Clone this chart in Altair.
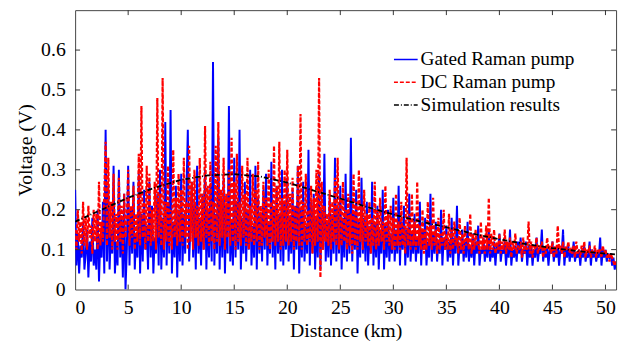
import altair as alt
import pandas as pd

# Sampling grid along the fibre (km), 0.125 km steps (0 .. 51 km)
distance_km = [i * 0.125 for i in range(409)]

gated = [
    # 0-5 km
    0.25, 0.06, 0.14, 0.04, 0.11, 0.08, 0.17, 0.05,
    0.09, 0.15, 0.03, 0.12, 0.07, 0.18, 0.06, 0.10,
    0.05, 0.20, 0.02, 0.13, 0.08, 0.22, 0.04, 0.40,
    0.07, 0.26, 0.05, 0.15, 0.09, 0.31, 0.04, 0.12,
    0.06, 0.30, 0.08, 0.18, 0.03, 0.24, 0.00, 0.10,
    # 5-10 km
    0.31, 0.06, 0.20, 0.09, 0.27, 0.05, 0.14, 0.08,
    0.29, 0.04, 0.19, 0.07, 0.25, 0.10, 0.16, 0.05,
    0.27, 0.08, 0.21, 0.04, 0.13, 0.09, 0.24, 0.06,
    0.30, 0.05, 0.18, 0.08, 0.42, 0.06, 0.22, 0.09,
    0.45, 0.04, 0.17, 0.08, 0.26, 0.03, 0.20, 0.07,
    # 10-15 km
    0.29, 0.06, 0.19, 0.09, 0.25, 0.40, 0.07, 0.16,
    0.27, 0.08, 0.22, 0.05, 0.31, 0.09, 0.18, 0.06,
    0.24, 0.10, 0.30, 0.05, 0.20, 0.08, 0.26, 0.07,
    0.57, 0.06, 0.19, 0.09, 0.38, 0.05, 0.23, 0.08,
    0.28, 0.04, 0.21, 0.09, 0.46, 0.07, 0.17, 0.06,
    # 15-20 km
    0.33, 0.08, 0.22, 0.10, 0.40, 0.05, 0.18, 0.09,
    0.27, 0.07, 0.20, 0.10, 0.30, 0.06, 0.16, 0.08,
    0.31, 0.05, 0.23, 0.09, 0.19, 0.07, 0.25, 0.10,
    0.29, 0.06, 0.17, 0.09, 0.32, 0.08, 0.21, 0.05,
    0.26, 0.09, 0.19, 0.07, 0.30, 0.06, 0.22, 0.10,
    # 20-25 km
    0.28, 0.07, 0.18, 0.09, 0.25, 0.05, 0.21, 0.10,
    0.31, 0.04, 0.20, 0.08, 0.27, 0.07, 0.16, 0.09,
    0.35, 0.06, 0.22, 0.09, 0.24, 0.05, 0.18, 0.08,
    0.29, 0.05, 0.20, 0.10, 0.34, 0.07, 0.17, 0.08,
    0.23, 0.06, 0.19, 0.09, 0.33, 0.07, 0.21, 0.09,
    # 25-30 km
    0.26, 0.05, 0.18, 0.08, 0.29, 0.07, 0.20, 0.09,
    0.38, 0.07, 0.19, 0.10, 0.25, 0.04, 0.17, 0.08,
    0.28, 0.09, 0.18, 0.07, 0.22, 0.06, 0.16, 0.09,
    0.27, 0.06, 0.17, 0.08, 0.21, 0.05, 0.15, 0.09,
    0.25, 0.05, 0.16, 0.08, 0.20, 0.07, 0.14, 0.09,
    # 30-35 km
    0.23, 0.07, 0.15, 0.09, 0.26, 0.06, 0.17, 0.10,
    0.21, 0.06, 0.15, 0.08, 0.24, 0.07, 0.14, 0.09,
    0.19, 0.07, 0.13, 0.09, 0.22, 0.06, 0.15, 0.10,
    0.18, 0.06, 0.12, 0.08, 0.24, 0.07, 0.14, 0.09,
    0.17, 0.07, 0.12, 0.09, 0.20, 0.06, 0.13, 0.10,
    # 35-40 km
    0.16, 0.07, 0.12, 0.08, 0.18, 0.06, 0.13, 0.09,
    0.21, 0.06, 0.11, 0.09, 0.15, 0.07, 0.12, 0.08,
    0.17, 0.07, 0.11, 0.08, 0.14, 0.06, 0.12, 0.09,
    0.16, 0.06, 0.10, 0.09, 0.13, 0.07, 0.11, 0.08,
    0.15, 0.07, 0.10, 0.08, 0.12, 0.06, 0.11, 0.09,
    # 40-45 km
    0.14, 0.07, 0.10, 0.09, 0.12, 0.06, 0.11, 0.08,
    0.15, 0.06, 0.10, 0.08, 0.11, 0.07, 0.12, 0.09,
    0.13, 0.07, 0.10, 0.09, 0.12, 0.06, 0.11, 0.08,
    0.11, 0.06, 0.10, 0.08, 0.13, 0.07, 0.10, 0.09,
    0.15, 0.07, 0.10, 0.08, 0.11, 0.06, 0.10, 0.09,
    # 45-50 km
    0.12, 0.07, 0.10, 0.08, 0.11, 0.06, 0.10, 0.09,
    0.15, 0.06, 0.10, 0.08, 0.11, 0.07, 0.10, 0.08,
    0.12, 0.07, 0.09, 0.08, 0.10, 0.06, 0.10, 0.08,
    0.11, 0.07, 0.09, 0.08, 0.12, 0.06, 0.10, 0.08,
    0.10, 0.07, 0.09, 0.08, 0.13, 0.06, 0.10, 0.08,
    # 50-51 km
    0.10, 0.07, 0.09, 0.08, 0.09, 0.06, 0.08, 0.05, 0.07,
]

dc = [
    # 0-5 km
    0.15, 0.10, 0.20, 0.12, 0.17, 0.09, 0.22, 0.11,
    0.18, 0.10, 0.21, 0.13, 0.16, 0.09, 0.20, 0.12,
    0.19, 0.10, 0.27, 0.11, 0.17, 0.12, 0.24, 0.37,
    0.11, 0.33, 0.13, 0.22, 0.10, 0.29, 0.12, 0.19,
    0.10, 0.28, 0.12, 0.21, 0.09, 0.24, 0.13, 0.18,
    # 5-10 km
    0.30, 0.11, 0.21, 0.13, 0.26, 0.10, 0.19, 0.12,
    0.34, 0.11, 0.46, 0.13, 0.22, 0.10, 0.31, 0.12,
    0.29, 0.11, 0.20, 0.12, 0.27, 0.10, 0.48, 0.13,
    0.24, 0.11, 0.53, 0.10, 0.22, 0.12, 0.31, 0.11,
    0.20, 0.10, 0.35, 0.13, 0.23, 0.11, 0.29, 0.12,
    # 10-15 km
    0.25, 0.11, 0.33, 0.13, 0.22, 0.10, 0.36, 0.12,
    0.27, 0.10, 0.30, 0.13, 0.21, 0.11, 0.33, 0.12,
    0.24, 0.10, 0.41, 0.13, 0.26, 0.11, 0.32, 0.12,
    0.22, 0.10, 0.36, 0.12, 0.42, 0.11, 0.25, 0.13,
    0.33, 0.10, 0.24, 0.13, 0.30, 0.11, 0.38, 0.12,
    # 15-20 km
    0.27, 0.10, 0.34, 0.12, 0.22, 0.11, 0.31, 0.13,
    0.24, 0.11, 0.33, 0.10, 0.21, 0.12, 0.29, 0.11,
    0.25, 0.12, 0.32, 0.10, 0.21, 0.11, 0.27, 0.13,
    0.23, 0.11, 0.30, 0.10, 0.22, 0.12, 0.36, 0.11,
    0.26, 0.12, 0.37, 0.10, 0.23, 0.11, 0.30, 0.12,
    # 20-25 km
    0.35, 0.11, 0.24, 0.12, 0.28, 0.10, 0.21, 0.12,
    0.31, 0.11, 0.44, 0.10, 0.22, 0.12, 0.29, 0.11,
    0.20, 0.12, 0.26, 0.09, 0.23, 0.11, 0.30, 0.12,
    0.53, 0.03, 0.27, 0.10, 0.21, 0.12, 0.19, 0.11,
    0.25, 0.10, 0.22, 0.12, 0.28, 0.11, 0.33, 0.10,
    # 25-30 km
    0.23, 0.11, 0.27, 0.12, 0.20, 0.10, 0.24, 0.11,
    0.19, 0.09, 0.29, 0.11, 0.22, 0.10, 0.30, 0.12,
    0.21, 0.10, 0.25, 0.12, 0.19, 0.11, 0.22, 0.09,
    0.18, 0.11, 0.27, 0.10, 0.20, 0.11, 0.23, 0.12,
    0.17, 0.10, 0.26, 0.12, 0.19, 0.11, 0.21, 0.10,
    # 30-35 km
    0.18, 0.10, 0.24, 0.11, 0.17, 0.10, 0.22, 0.11,
    0.16, 0.09, 0.33, 0.11, 0.19, 0.10, 0.24, 0.11,
    0.17, 0.10, 0.27, 0.11, 0.16, 0.10, 0.20, 0.09,
    0.15, 0.10, 0.22, 0.11, 0.16, 0.10, 0.23, 0.11,
    0.15, 0.09, 0.18, 0.10, 0.14, 0.11, 0.20, 0.10,
    # 35-40 km
    0.14, 0.10, 0.19, 0.09, 0.15, 0.10, 0.17, 0.11,
    0.13, 0.09, 0.18, 0.10, 0.14, 0.09, 0.16, 0.11,
    0.13, 0.10, 0.19, 0.09, 0.14, 0.10, 0.15, 0.11,
    0.12, 0.09, 0.17, 0.10, 0.13, 0.09, 0.16, 0.10,
    0.23, 0.09, 0.14, 0.10, 0.15, 0.09, 0.12, 0.10,
    # 40-45 km
    0.14, 0.09, 0.12, 0.10, 0.15, 0.09, 0.12, 0.10,
    0.13, 0.08, 0.12, 0.10, 0.14, 0.09, 0.11, 0.10,
    0.12, 0.08, 0.13, 0.09, 0.11, 0.10, 0.17, 0.09,
    0.12, 0.08, 0.11, 0.10, 0.13, 0.09, 0.11, 0.10,
    0.12, 0.08, 0.11, 0.09, 0.13, 0.10, 0.11, 0.09,
    # 45-50 km
    0.12, 0.08, 0.11, 0.09, 0.16, 0.10, 0.11, 0.09,
    0.12, 0.08, 0.11, 0.10, 0.12, 0.09, 0.10, 0.09,
    0.11, 0.08, 0.12, 0.09, 0.10, 0.08, 0.11, 0.09,
    0.12, 0.08, 0.10, 0.09, 0.11, 0.08, 0.10, 0.09,
    0.11, 0.08, 0.10, 0.09, 0.10, 0.08, 0.11, 0.09,
    # 50-51 km
    0.10, 0.08, 0.09, 0.07, 0.09, 0.08, 0.07, 0.06, 0.07,
]

sim_km = [0, 2.5, 5, 7.5, 10, 12.5, 15, 17.5, 20, 22.5, 25, 27.5, 30, 32.5, 35, 37.5, 40, 42.5, 45, 47.5, 50, 51]
sim_v = [0.170, 0.200, 0.230, 0.255, 0.275, 0.286, 0.289, 0.283, 0.268, 0.248, 0.228, 0.207, 0.188, 0.171, 0.156, 0.140,
         0.126, 0.114, 0.104, 0.096, 0.090, 0.088]

series_names = ["Gated Raman pump", "DC Raman pump", "Simulation results"]
series_colors = ["#0000ff", "#ff0000", "#000000"]
series_dashes = [[1, 0], [4, 2], [5, 2, 1, 2]]

x_ticks = [5, 10, 15, 20, 25, 30, 35, 40, 45, 50]
y_ticks = [0.1, 0.2, 0.3, 0.4, 0.5, 0.6]

W, H = 548, 283
FONT = "Liberation Serif"

df_g = pd.DataFrame({"Distance": distance_km, "Voltage": gated, "series": series_names[0]})
df_d = pd.DataFrame({"Distance": distance_km, "Voltage": dc, "series": series_names[1]})
df_s = pd.DataFrame({"Distance": sim_km, "Voltage": sim_v, "series": series_names[2]})

xscale = alt.Scale(domain=[0, 51], nice=False, zero=False)
yscale = alt.Scale(domain=[0, 0.7], nice=False)

color = alt.Color(
    "series:N",
    scale=alt.Scale(domain=series_names, range=series_colors),
    legend=alt.Legend(
        title=None, orient="none", legendX=322, legendY=37,
        symbolType="stroke", symbolSize=576, symbolStrokeWidth=1.5,
        labelFont=FONT, labelFontSize=19.5, labelColor="black",
        labelOffset=2, rowPadding=0, padding=0,
    ),
)
dash = alt.StrokeDash(
    "series:N",
    scale=alt.Scale(domain=series_names, range=series_dashes),
    legend=None,
)

x_axis = alt.Axis(values=[0] + x_ticks, tickSize=0, domain=False, grid=False,
                  labelPadding=8, titlePadding=4, format="d")
y_axis = alt.Axis(values=[0] + y_ticks, tickSize=0, domain=False, grid=False,
                  labelPadding=10, titlePadding=5,
                  labelExpr="datum.value == 0 ? '0' : format(datum.value, '.1f')")

x_enc = alt.X("Distance:Q", scale=xscale, title="Distance (km)", axis=x_axis)
y_enc = alt.Y("Voltage:Q", scale=yscale, title="Voltage (V)", axis=y_axis)


def line_layer(df, width):
    return alt.Chart(df).mark_line(strokeWidth=width, clip=True).encode(
        x=x_enc, y=y_enc, color=color, strokeDash=dash,
    )


gated_line = line_layer(df_g, 2.0)
dc_line = line_layer(df_d, 2.2)
sim_line = line_layer(df_s, 1.8)

xt = pd.DataFrame({"Distance": x_ticks})
yt = pd.DataFrame({"Voltage": y_ticks})
tick_col = "#333333"
xb = alt.Chart(xt).mark_rule(color=tick_col, strokeWidth=1).encode(
    x=x_enc, y=alt.value(H), y2=alt.value(H - 5))
xtop = alt.Chart(xt).mark_rule(color=tick_col, strokeWidth=1).encode(
    x=x_enc, y=alt.value(0), y2=alt.value(5))
yl = alt.Chart(yt).mark_rule(color=tick_col, strokeWidth=1).encode(
    y=y_enc, x=alt.value(0), x2=alt.value(5))
yr = alt.Chart(yt).mark_rule(color=tick_col, strokeWidth=1).encode(
    y=y_enc, x=alt.value(W), x2=alt.value(W - 5))

chart = alt.layer(gated_line, dc_line, sim_line, xb, xtop, yl, yr).properties(
    width=W, height=H,
    autosize=alt.AutoSizeParams(type="none"),
    padding={"left": 68, "top": 0, "right": 6, "bottom": 52},
).configure_view(
    stroke="#444444", strokeWidth=1,
).configure_axis(
    labelFont=FONT, titleFont=FONT, labelFontSize=20, titleFontSize=20,
    labelColor="black", titleColor="black", titleFontWeight="normal",
)

chart.save("out.html", embed_options={"renderer": "svg", "actions": False})
